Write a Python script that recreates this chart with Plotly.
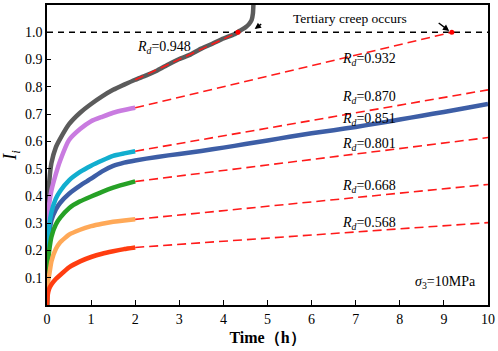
import plotly.graph_objects as go

# ---- data ----
t_primary = [0, 0.02, 0.05, 0.1, 0.2, 0.3, 0.5, 0.75, 1.0, 1.25, 1.5, 1.75, 2.0]
red_vals = [0, 0.04, 0.06, 0.075, 0.095, 0.11, 0.138, 0.16, 0.176, 0.188, 0.197, 0.205, 0.211]
orange_vals = [0, 0.08, 0.11, 0.16, 0.205, 0.23, 0.258, 0.276, 0.289, 0.298, 0.305, 0.31, 0.314]
green_vals = [0, 0.15, 0.2, 0.25, 0.295, 0.32, 0.355, 0.38, 0.398, 0.415, 0.43, 0.442, 0.453]
cyan_vals = [0, 0.22, 0.29, 0.34, 0.39, 0.418, 0.457, 0.488, 0.511, 0.53, 0.547, 0.556, 0.564]
violet_vals = [0, 0.3, 0.37, 0.42, 0.48, 0.53, 0.605, 0.645, 0.674, 0.69, 0.705, 0.715, 0.723]

t_blue = [0, 0.02, 0.05, 0.1, 0.2, 0.3, 0.5, 0.75, 1.0, 1.25, 1.5, 1.75, 2.0,
          2.5, 3.0, 3.5, 4.0, 4.5, 5.0, 5.5, 6.0, 6.5, 7.0, 7.5, 8.0, 8.5, 9.0, 9.5, 10.0]
blue_vals = [0, 0.2, 0.26, 0.31, 0.35, 0.375, 0.408, 0.438, 0.463, 0.49, 0.51, 0.522, 0.530,
             0.543, 0.554, 0.565, 0.577, 0.590, 0.603, 0.617, 0.630, 0.641, 0.653, 0.666,
             0.680, 0.694, 0.708, 0.722, 0.737]

t_gray = [0, 0.02, 0.05, 0.1, 0.2, 0.3, 0.5, 0.75, 1.0, 1.25, 1.5, 1.75, 2.0, 2.25, 2.5,
          2.75, 3.0, 3.25, 3.5, 3.75, 4.0, 4.25, 4.4, 4.5, 4.58, 4.64, 4.67, 4.68]
gray_vals = [0, 0.35, 0.45, 0.52, 0.578, 0.61, 0.663, 0.705, 0.737, 0.765, 0.789, 0.808,
             0.826, 0.842, 0.86, 0.882, 0.902, 0.918, 0.94, 0.958, 0.977, 0.993, 1.008,
             1.018, 1.03, 1.045, 1.07, 1.1]

# fitted (dashed) lines: [start, end] points
fit_gray = ([2.0, 4.33], [0.826, 1.0])
fit_violet = ([2.0, 9.18], [0.723, 1.0])
fit_cyan = ([2.0, 10.0], [0.564, 0.789])
fit_green = ([2.0, 10.0], [0.453, 0.614])
fit_orange = ([2.0, 10.0], [0.314, 0.442])
fit_red = ([2.0, 10.0], [0.211, 0.302])

failure_t = [4.33, 9.18]
failure_i = [1.0, 1.0]

rd_labels = ["0.948", "0.932", "0.870", "0.851", "0.801", "0.668", "0.568"]
rd_label_x = [2.65, 7.3, 7.3, 7.3, 7.3, 7.3, 7.3]
rd_label_y = [0.946, 0.899, 0.761, 0.681, 0.587, 0.434, 0.298]

FONT = "Liberation Serif"
fig = go.Figure()

series = [
    (t_gray, gray_vals, "#5b5b5b"),
    (t_primary, violet_vals, "#c97be0"),
    (t_blue, blue_vals, "#3d5ea6"),
    (t_primary, cyan_vals, "#12aecf"),
    (t_primary, green_vals, "#26a126"),
    (t_primary, orange_vals, "#ffa958"),
    (t_primary, red_vals, "#ff3d10"),
]
for tx, vy, col in series:
    fig.add_trace(go.Scatter(x=tx, y=vy, mode="lines",
                             line=dict(color=col, width=4.5, shape="spline", smoothing=0.4),
                             showlegend=False, hoverinfo="skip"))

# black threshold line
fig.add_trace(go.Scatter(x=[0, 10], y=[1.0, 1.0], mode="lines",
                         line=dict(color="black", width=1.6, dash="6px,5px"),
                         showlegend=False))

for fx, fy in [fit_gray, fit_violet, fit_cyan, fit_green, fit_orange, fit_red]:
    fig.add_trace(go.Scatter(x=fx, y=fy, mode="lines",
                             line=dict(color="#ff1a1a", width=1.6, dash="9px,5px"),
                             showlegend=False))

fig.add_trace(go.Scatter(x=failure_t, y=failure_i, mode="markers",
                         marker=dict(color="#ff0000", size=5), showlegend=False))

for lab, lx, ly in zip(rd_labels, rd_label_x, rd_label_y):
    fig.add_annotation(x=lx, y=ly, text="<i>R</i><sub><i>d</i></sub>=" + lab,
                       showarrow=False, font=dict(family=FONT, size=14, color="black"))

fig.add_annotation(x=9.03, y=0.083, text="<i>σ</i><sub>3</sub>=10MPa",
                   showarrow=False, font=dict(family=FONT, size=14, color="black"))
fig.add_annotation(x=6.88, y=1.052, text="Tertiary creep occurs",
                   showarrow=False, font=dict(family=FONT, size=13.5, color="black"))

# arrows
fig.add_annotation(x=4.71, y=1.012, ax=8, ay=-6, text="", showarrow=True,
                   arrowhead=2, arrowsize=0.9, arrowwidth=1.4, arrowcolor="black")
fig.add_annotation(x=9.12, y=1.005, ax=-12, ay=-9, text="", showarrow=True,
                   arrowhead=2, arrowsize=0.9, arrowwidth=1.4, arrowcolor="black")

fig.update_layout(
    width=498, height=351,
    margin=dict(l=47, r=9, t=3, b=46),
    paper_bgcolor="white", plot_bgcolor="white",
    font=dict(family=FONT, size=13, color="black"),
    showlegend=False,
)
fig.update_xaxes(range=[0, 10], tickvals=list(range(0, 11)), ticks="inside", ticklen=5,
                 tickwidth=1.3, tickcolor="black",
                 showline=True, linecolor="black", linewidth=1.6, mirror=True,
                 showgrid=False, zeroline=False,
                 tickfont=dict(family=FONT, size=14),
                 title=dict(text="<b>Time（h）</b>", font=dict(family=FONT, size=16), standoff=6))
fig.update_yaxes(range=[0, 1.1], tickvals=[0.1, 0.2, 0.3, 0.4, 0.5, 0.6, 0.7, 0.8, 0.9, 1.0],
                 ticktext=["0.1", "0.2", "0.3", "0.4", "0.5", "0.6", "0.7", "0.8", "0.9", "1.0"],
                 ticks="inside", ticklen=4, tickwidth=1.3, tickcolor="black",
                 showline=True, linecolor="black", linewidth=1.6, mirror=True,
                 showgrid=False, zeroline=False,
                 tickfont=dict(family=FONT, size=14),
                 title=dict(text="<i>I</i><sub><i>i</i></sub>", font=dict(family=FONT, size=18), standoff=6))

fig.write_html("out.html", config={"displayModeBar": False},
               post_script="document.body.style.margin='0';document.body.style.padding='0';")
